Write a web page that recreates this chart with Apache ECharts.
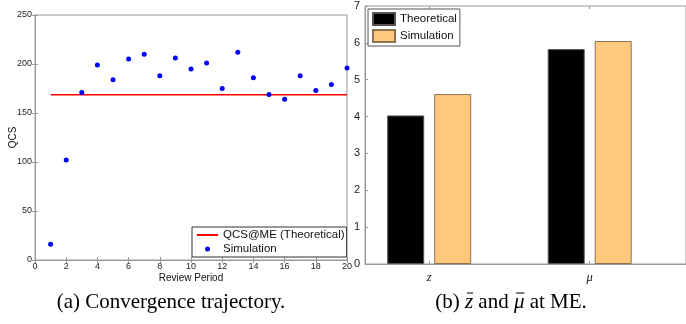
<!DOCTYPE html>
<html>
<head>
<meta charset="utf-8">
<script src="https://cdn.jsdelivr.net/npm/echarts@6/dist/echarts.min.js"></script>
<style>
  html, body { margin: 0; padding: 0; background: #fff; }
  #main { width: 686px; height: 324px; }
</style>
</head>
<body>
<div id="main"></div>
<script>
// (a) convergence trajectory
var periods = [1, 2, 3, 4, 5, 6, 7, 8, 9, 10, 11, 12, 13, 14, 15, 16, 17, 18, 19, 20];
var simQcs = [16, 102, 171, 199, 184, 205, 210, 188, 206, 195, 201, 175, 212, 186, 169, 164, 188, 173, 179, 196];
var theoQcs = 168.7;

// (b) z and mu at ME
var barPos = [1, 2];
var barLabels = ['z', 'μ'];
var theoBars = [4.03, 5.83];
var simBars = [4.61, 6.05];

var axisGray = '#9a9a9a';
var sans = 'Liberation Sans, Arial, sans-serif';
var serif = '"Liberation Serif", "Times New Roman", serif';

var chart = echarts.init(document.getElementById('main'));

var tickInside = { show: true, inside: true, length: 3, lineStyle: { color: axisGray } };

// caption (b) pieces, macron drawn over the italic symbols
function captionB(cx, cy) {
  var parts = [
    { t: '(b) ', it: false }, { t: 'z', it: true }, { t: ' and ', it: false },
    { t: 'μ', it: true }, { t: ' at ME.', it: false }
  ];
  var ctx = document.createElement('canvas').getContext('2d');
  var fonts = { n: '21px ' + serif, i: 'italic 21px ' + serif };
  var total = 0;
  parts.forEach(function (p) {
    ctx.font = p.it ? fonts.i : fonts.n;
    p.w = ctx.measureText(p.t).width;
    total += p.w;
  });
  var x = cx - total / 2;
  var els = [];
  parts.forEach(function (p) {
    els.push({
      type: 'text',
      style: { x: x, y: cy, text: p.t, font: p.it ? fonts.i : fonts.n, fill: '#000', verticalAlign: 'middle' }
    });
    if (p.it) {
      els.push({
        type: 'line',
        shape: { x1: x + 2, y1: cy - 9, x2: x + p.w, y2: cy - 9 },
        style: { stroke: '#000', lineWidth: 1 }
      });
    }
    x += p.w;
  });
  return els;
}

var option = {
  backgroundColor: '#fff',
  animation: false,
  grid: [
    { left: 35, top: 15, width: 312, height: 245, show: true, borderColor: axisGray, borderWidth: 1 },
    { left: 365, top: 6, width: 328, height: 258, show: true, borderColor: axisGray, borderWidth: 1 }
  ],
  xAxis: [
    {
      gridIndex: 0, type: 'value', min: 0, max: 20, interval: 2,
      name: 'Review Period', nameLocation: 'middle', nameGap: 13, nameMoveOverlap: false,
      nameTextStyle: { fontFamily: sans, fontSize: 10, color: '#111' },
      axisLine: { lineStyle: { color: axisGray } },
      axisTick: tickInside,
      axisLabel: { fontFamily: sans, fontSize: 9, color: '#222', margin: 2 },
      splitLine: { show: false }
    },
    {
      gridIndex: 0, type: 'value', position: 'top', min: 0, max: 20, interval: 2,
      axisLine: { show: false }, axisTick: tickInside, axisLabel: { show: false }, splitLine: { show: false }
    },
    {
      gridIndex: 1, type: 'value', min: 0.6, max: 2.6,
      axisLine: { lineStyle: { color: axisGray } },
      axisTick: { show: true, inside: true, length: 3, customValues: barPos, lineStyle: { color: axisGray } },
      axisLabel: {
        customValues: barPos, margin: 7,
        fontFamily: serif, fontStyle: 'italic', fontSize: 12.5, color: '#111',
        formatter: function (v) { return barLabels[barPos.indexOf(v)] || ''; }
      },
      splitLine: { show: false }
    },
    {
      gridIndex: 1, type: 'value', position: 'top', min: 0.6, max: 2.6,
      axisLine: { show: false },
      axisTick: { show: true, inside: true, length: 3, customValues: barPos, lineStyle: { color: axisGray } },
      axisLabel: { show: false }, splitLine: { show: false }
    }
  ],
  yAxis: [
    {
      gridIndex: 0, type: 'value', min: 0, max: 250, interval: 50,
      name: 'QCS', nameLocation: 'middle', nameGap: 17, nameRotate: 90, nameMoveOverlap: false,
      nameTextStyle: { fontFamily: sans, fontSize: 10, color: '#111' },
      axisLine: { lineStyle: { color: axisGray } },
      axisTick: tickInside,
      axisLabel: { fontFamily: sans, fontSize: 9, color: '#222', margin: 3 },
      splitLine: { show: false }
    },
    {
      gridIndex: 0, type: 'value', position: 'right', min: 0, max: 250, interval: 50,
      axisLine: { show: false }, axisTick: tickInside, axisLabel: { show: false }, splitLine: { show: false }
    },
    {
      gridIndex: 1, type: 'value', min: 0, max: 7, interval: 1,
      axisLine: { lineStyle: { color: axisGray } },
      axisTick: tickInside,
      axisLabel: { fontFamily: sans, fontSize: 11, color: '#222', margin: 5 },
      splitLine: { show: false }
    }
  ],
  legend: [
    {
      orient: 'vertical', left: 192, top: 227,
      data: [
        { name: 'QCS@ME (Theoretical)', itemStyle: { opacity: 0 } },
        { name: 'Simulation', icon: 'circle' }
      ],
      itemWidth: 21, itemHeight: 5, itemGap: 2, itemTextGap: 2,
      padding: [2, 2, 2, 4],
      borderColor: '#333', borderWidth: 1, backgroundColor: '#fff',
      textStyle: { fontFamily: sans, fontSize: 11.5, color: '#111' }
    },
    {
      orient: 'vertical', left: 368, top: 9,
      data: ['Theoretical', 'Simulation '],
      icon: 'rect',
      itemWidth: 22, itemHeight: 12, itemGap: 3, itemTextGap: 3,
      padding: [3, 3, 3, 4],
      borderColor: '#555', borderWidth: 1, backgroundColor: '#fff',
      textStyle: { fontFamily: sans, fontSize: 11.5, color: '#111' }
    }
  ],
  series: [
    {
      name: 'QCS@ME (Theoretical)', type: 'line', xAxisIndex: 0, yAxisIndex: 0,
      symbol: 'none', lineStyle: { color: '#ff0000', width: 1.5 }, itemStyle: { color: '#ff0000' },
      data: periods.map(function (p) { return [p, theoQcs]; }),
      z: 2
    },
    {
      name: 'Simulation', type: 'scatter', xAxisIndex: 0, yAxisIndex: 0,
      symbol: 'circle', symbolSize: 5, itemStyle: { color: '#0000ff', opacity: 1 },
      data: periods.map(function (p, i) { return [p, simQcs[i]]; }),
      z: 3
    },
    {
      name: 'Theoretical', type: 'bar', xAxisIndex: 2, yAxisIndex: 2,
      barWidth: 37, barGap: '27%',
      itemStyle: { color: '#000', borderColor: '#555', borderWidth: 1 },
      data: barPos.map(function (p, i) { return [p, theoBars[i]]; })
    },
    {
      name: 'Simulation ', type: 'bar', xAxisIndex: 2, yAxisIndex: 2,
      barWidth: 37, barGap: '27%',
      itemStyle: { color: '#ffc87c', borderColor: '#8c7352', borderWidth: 1 },
      data: barPos.map(function (p, i) { return [p, simBars[i]]; })
    }
  ],
  graphic: [
    {
      type: 'text',
      style: {
        x: 171, y: 302, text: '(a) Convergence trajectory.', align: 'center', verticalAlign: 'middle',
        font: '21px ' + serif, fill: '#000'
      }
    }
  ].concat(captionB(511, 302))
};

chart.setOption(option);
</script>
</body>
</html>
